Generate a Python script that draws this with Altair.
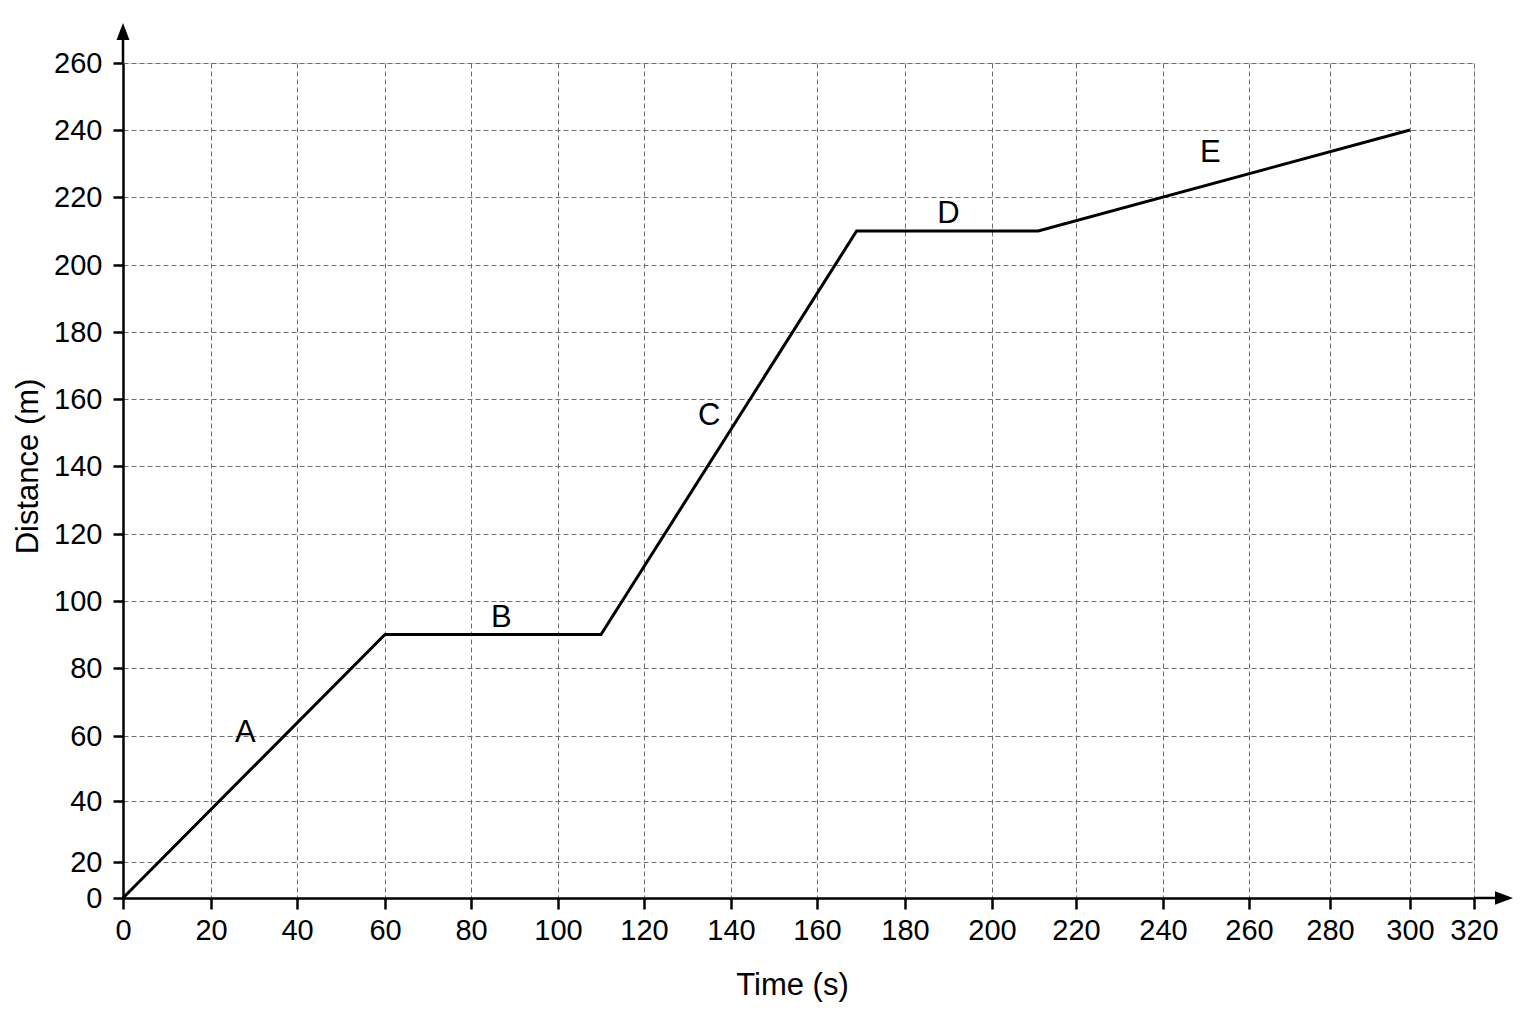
import altair as alt
import pandas as pd

# ---- data ----
time_s = [0, 60, 110, 169, 211, 300]
distance_m = [0, 90, 90, 210, 210, 240]

seg_labels = ["A", "B", "C", "D", "E"]
seg_label_time = [28, 87, 135, 190, 251]
seg_label_dist = [61, 95, 155, 215, 233]

x_ticks = list(range(0, 321, 20))
y_ticks = list(range(0, 261, 20))

# ---- layout (plot area in px) ----
W, H = 1351, 835
# the printed grid is slightly irregular; piecewise scale ranges reproduce it
x_range = [0, 88, 174, 262, 348, 435, 521, 608, 694, 782, 869, 953, 1040, 1126, 1207, 1287, 1351]
y_range = [835, 799, 738, 673, 605, 538, 471, 403, 336, 269, 202, 134, 67, 0]

FONT = "Liberation Sans"

line_df = pd.DataFrame({"t": time_s, "d": distance_m})
lab_df = pd.DataFrame({"t": seg_label_time, "d": seg_label_dist, "lab": seg_labels})
dummy = pd.DataFrame({"a": [0]})

xs = alt.Scale(domain=x_ticks, range=x_range)
ys = alt.Scale(domain=y_ticks, range=y_range)

x_axis = alt.Axis(
    values=x_ticks, title="Time (s)", grid=True, gridDash=[5, 3], gridColor="#6e6e6e",
    gridWidth=1, domainColor="black", domainWidth=2.5, tickColor="black", tickWidth=2.5,
    tickSize=11, labelFontSize=29, labelFont=FONT, labelColor="black", labelPadding=7,
    titleFontSize=31, titleFont=FONT, titleFontWeight="normal", titleColor="black",
    titlePadding=25, titleX=669, labelFlush=False, labelOverlap=False,
)
y_axis = alt.Axis(
    values=y_ticks, title="Distance (m)", grid=True, gridDash=[5, 3], gridColor="#6e6e6e",
    gridWidth=1, domainColor="black", domainWidth=2.5, tickColor="black", tickWidth=2.5,
    tickSize=10, labelFontSize=29, labelFont=FONT, labelColor="black", labelPadding=11,
    titleFontSize=31, titleFont=FONT, titleFontWeight="normal", titleColor="black",
    titlePadding=9, titleY=403, labelFlush=False, labelOverlap=False,
)

line = alt.Chart(line_df).mark_line(color="black", strokeWidth=3).encode(
    x=alt.X("t:Q", scale=xs, axis=x_axis),
    y=alt.Y("d:Q", scale=ys, axis=y_axis),
)

labels = alt.Chart(lab_df).mark_text(
    font=FONT, fontSize=31, color="black", align="center", baseline="middle"
).encode(
    x=alt.X("t:Q", scale=xs),
    y=alt.Y("d:Q", scale=ys),
    text="lab:N",
)

# axis arrow extensions (decoration)
y_ext = alt.Chart(dummy).mark_rule(color="black", strokeWidth=2.5).encode(
    x=alt.value(0), y=alt.value(-30), y2=alt.value(0)
)
y_head = alt.Chart(dummy).mark_point(
    shape="M0,-1L0.76,1L-0.76,1Z", filled=True, size=289, color="black", opacity=1, strokeWidth=0
).encode(x=alt.value(0), y=alt.value(-31.5))
x_ext = alt.Chart(dummy).mark_rule(color="black", strokeWidth=2.5).encode(
    x=alt.value(W), x2=alt.value(W + 30), y=alt.value(H)
)
x_head = alt.Chart(dummy).mark_point(
    shape="M1,0L-1,-0.76L-1,0.76Z", filled=True, size=324, color="black", opacity=1, strokeWidth=0
).encode(x=alt.value(W + 30), y=alt.value(H))

chart = alt.layer(line, labels, y_ext, y_head, x_ext, x_head).properties(
    width=W, height=H,
    autosize=alt.AutoSizeParams(type="none"),
    padding={"left": 115, "top": 55, "right": 54, "bottom": 118},
    background="white",
).configure_view(stroke=None).configure(font=FONT)

chart.save("out.html", embed_options={"renderer": "svg", "actions": False})
